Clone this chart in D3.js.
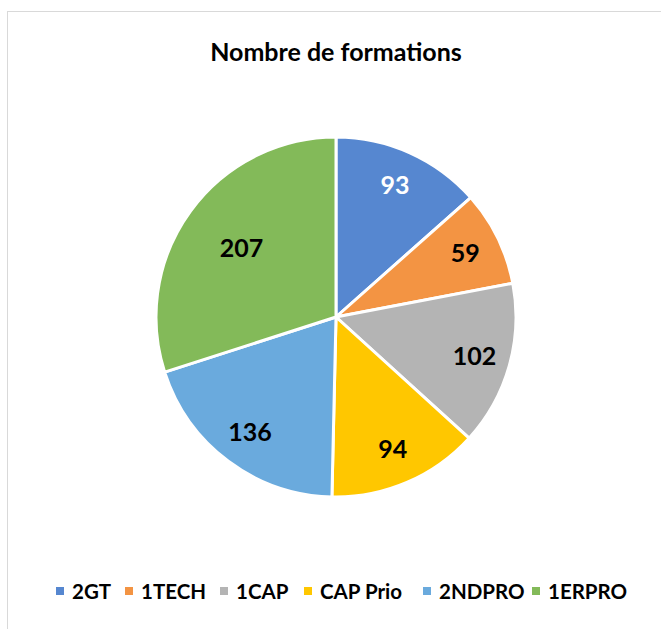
<!DOCTYPE html>
<html>
<head>
<meta charset="utf-8">
<script src="https://cdn.jsdelivr.net/npm/d3@7"></script>
<style>
  body { margin: 0; background: #fff; }
  svg { display: block; font-family: Lato, "Open Sans", sans-serif; }
</style>
</head>
<body>
<svg width="661" height="629"></svg>
<script>
const categories = ['2GT', '1TECH', '1CAP', 'CAP Prio', '2NDPRO', '1ERPRO']
const values = [93, 59, 102, 94, 136, 207]
const colors = ['#5687d0', '#f39443', '#b4b4b4', '#ffc700', '#6aaadd', '#83ba59']
const labelColors = ['#fff', '#000', '#000', '#000', '#000', '#000']
const title = 'Nombre de formations'

const cx = 336
const cy = 317
const radius = 180

let svg = d3.select('svg')

// cadre du graphique
svg.append('rect')
   .attr('x', 7.5)
   .attr('y', 11.5)
   .attr('width', 700)
   .attr('height', 700)
   .attr('fill', 'none')
   .attr('stroke', '#d9d9d9')
   .attr('stroke-width', 1)

svg.append('text')
   .attr('x', cx)
   .attr('y', 61)
   .attr('text-anchor', 'middle')
   .attr('font-weight', 'bold')
   .attr('font-size', 25)
   .attr('fill', '#000')
   .text(title)

let datos = categories.map((c, i) => ({ name: c, value: values[i], i: i }))

let pie = d3.pie()
            .value(d => d.value)
            .sort(null)

let arc = d3.arc()
            .innerRadius(0)
            .outerRadius(radius)

let g = svg.append('g')
           .attr('transform', 'translate(' + cx + ',' + cy + ')')

let arcs = pie(datos)

g.selectAll('path')
 .data(arcs)
 .enter()
 .append('path')
 .attr('d', arc)
 .attr('fill', d => colors[d.data.i])
 .attr('stroke', '#fff')
 .attr('stroke-width', 3)
 .attr('stroke-linejoin', 'round')

g.selectAll('text.label')
 .data(arcs)
 .enter()
 .append('text')
 .attr('class', 'label')
 .attr('transform', d => {
    let r = d.data.value > 150 ? radius * 0.65 : radius * 0.8
    let a = (d.startAngle + d.endAngle) / 2
    return 'translate(' + (Math.sin(a) * r) + ',' + (-Math.cos(a) * r) + ')'
 })
 .attr('text-anchor', 'middle')
 .attr('dy', '0.35em')
 .attr('font-weight', 'bold')
 .attr('font-size', 25)
 .attr('fill', d => labelColors[d.data.i])
 .text(d => d.data.value)

// leyenda
let legendX = [56, 125, 220, 304, 423, 532]
let legend = svg.append('g')

categories.forEach((c, i) => {
   legend.append('rect')
         .attr('x', legendX[i])
         .attr('y', 587)
         .attr('width', 8)
         .attr('height', 8)
         .attr('fill', colors[i])
   legend.append('text')
         .attr('x', legendX[i] + 16)
         .attr('y', 599)
         .attr('font-weight', 'bold')
         .attr('font-size', 20.5)
         .attr('fill', '#000')
         .text(c)
})
</script>
</body>
</html>
